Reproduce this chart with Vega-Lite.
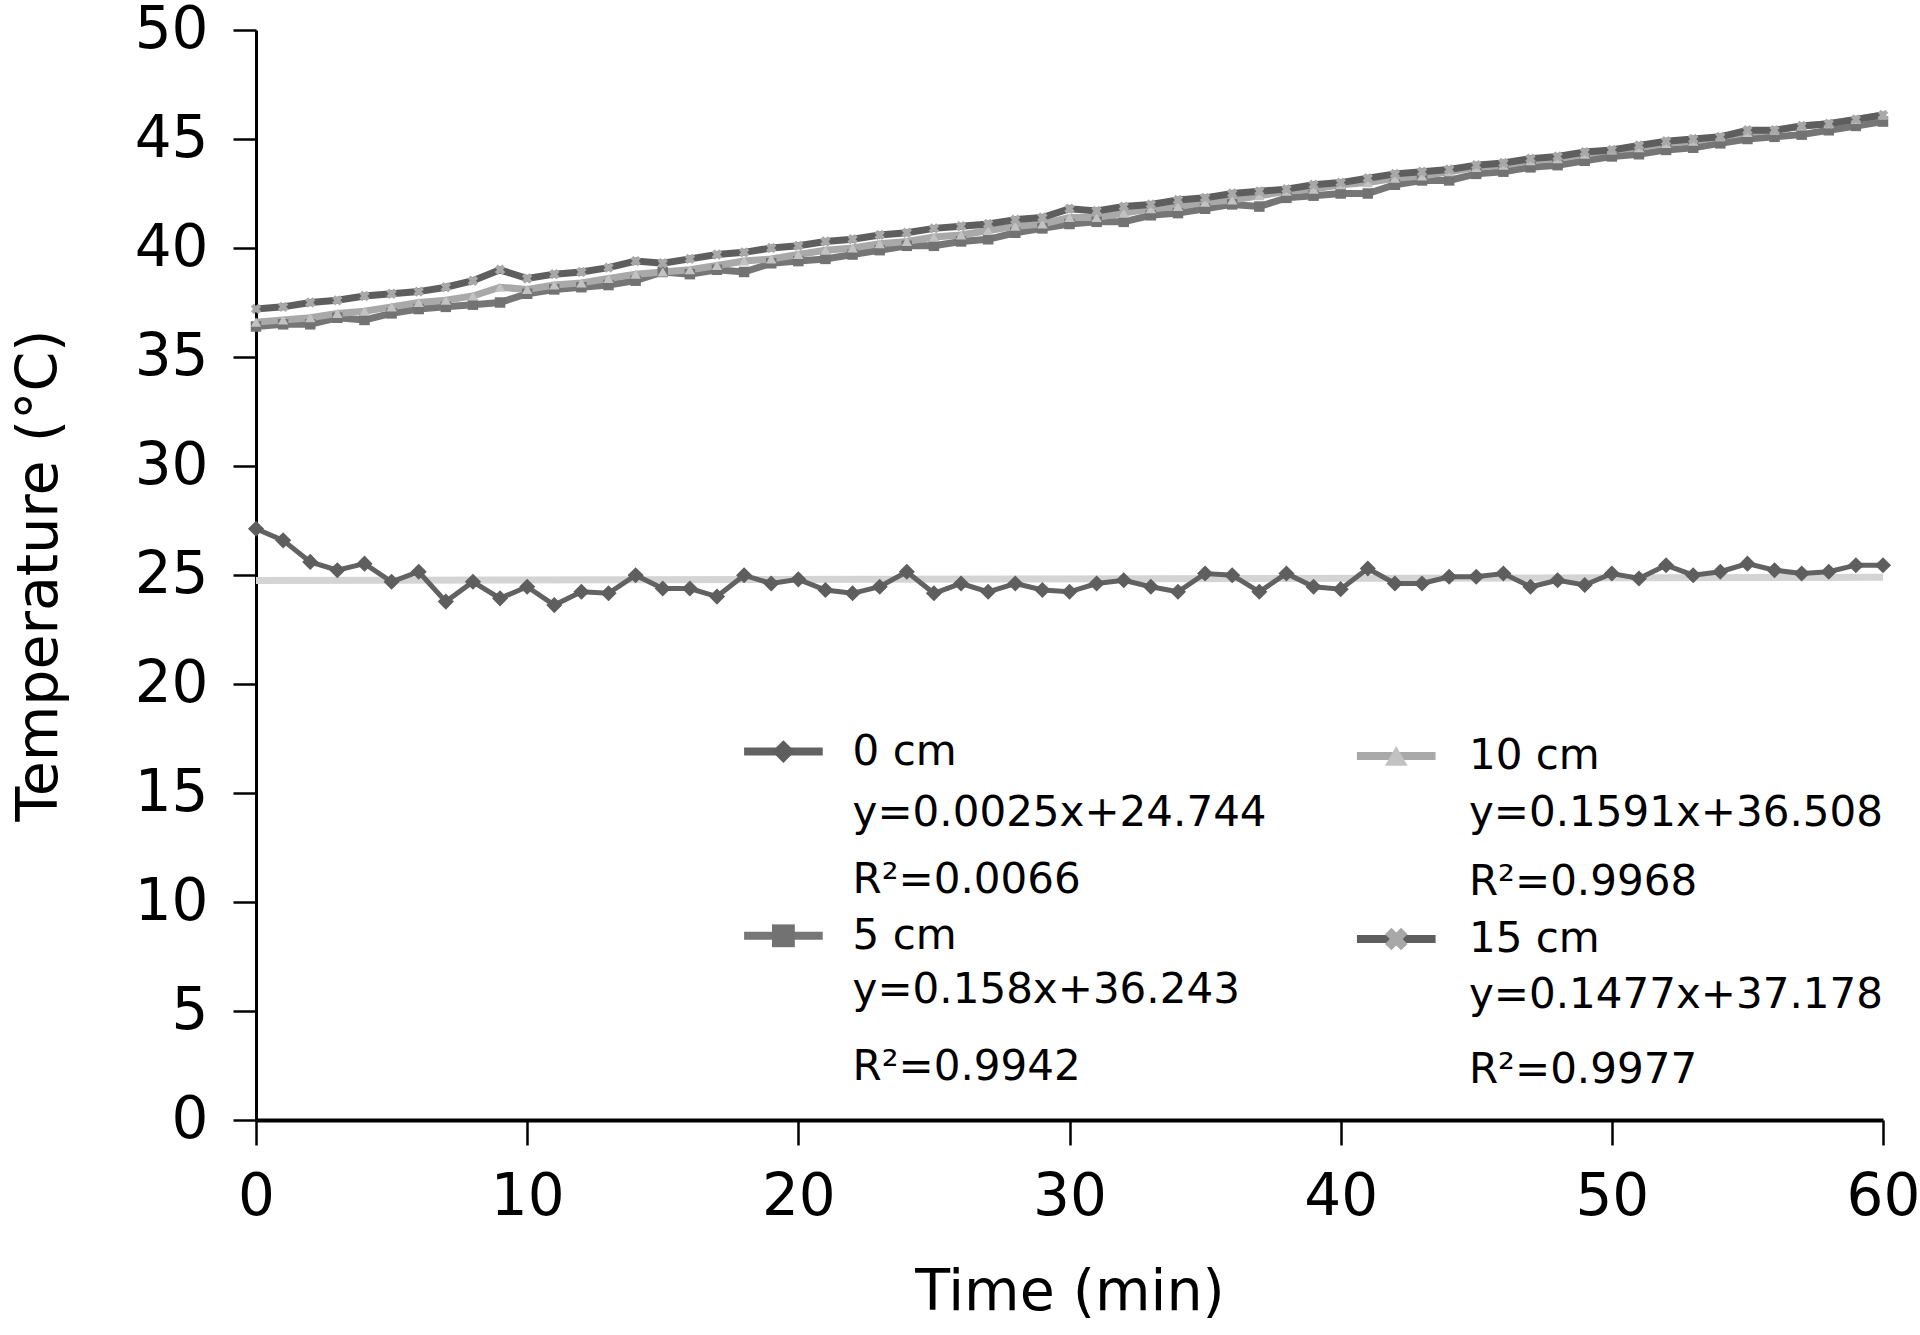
{
  "$schema": "https://vega.github.io/schema/vega-lite/v6.json",
  "width": 1627,
  "height": 1090,
  "autosize": "none",
  "padding": {"left": 256, "top": 30, "right": 37, "bottom": 215},
  "background": "white",
  "datasets": {
    "temps": [
      {"t":0,"c0":27.12,"c5":36.4,"c10":36.6,"c15":37.2},
      {"t":1,"c0":26.59,"c5":36.5,"c10":36.7,"c15":37.3},
      {"t":2,"c0":25.60,"c5":36.5,"c10":36.8,"c15":37.5},
      {"t":3,"c0":25.22,"c5":36.8,"c10":37.0,"c15":37.6},
      {"t":4,"c0":25.52,"c5":36.7,"c10":37.1,"c15":37.8},
      {"t":5,"c0":24.69,"c5":37.0,"c10":37.3,"c15":37.9},
      {"t":6,"c0":25.15,"c5":37.2,"c10":37.5,"c15":38.0},
      {"t":7,"c0":23.78,"c5":37.3,"c10":37.6,"c15":38.2},
      {"t":8,"c0":24.69,"c5":37.4,"c10":37.8,"c15":38.5},
      {"t":9,"c0":23.93,"c5":37.5,"c10":38.2,"c15":39.0},
      {"t":10,"c0":24.46,"c5":37.9,"c10":38.1,"c15":38.6},
      {"t":11,"c0":23.62,"c5":38.1,"c10":38.3,"c15":38.8},
      {"t":12,"c0":24.23,"c5":38.2,"c10":38.4,"c15":38.9},
      {"t":13,"c0":24.16,"c5":38.3,"c10":38.6,"c15":39.1},
      {"t":14,"c0":24.99,"c5":38.5,"c10":38.8,"c15":39.4},
      {"t":15,"c0":24.38,"c5":38.9,"c10":38.9,"c15":39.3},
      {"t":16,"c0":24.38,"c5":38.8,"c10":39.0,"c15":39.5},
      {"t":17,"c0":24.01,"c5":39.0,"c10":39.2,"c15":39.7},
      {"t":18,"c0":24.99,"c5":38.9,"c10":39.4,"c15":39.8},
      {"t":19,"c0":24.61,"c5":39.3,"c10":39.5,"c15":40.0},
      {"t":20,"c0":24.80,"c5":39.4,"c10":39.7,"c15":40.1},
      {"t":21,"c0":24.31,"c5":39.5,"c10":39.9,"c15":40.3},
      {"t":22,"c0":24.16,"c5":39.7,"c10":40.0,"c15":40.4},
      {"t":23,"c0":24.46,"c5":39.9,"c10":40.2,"c15":40.6},
      {"t":24,"c0":25.15,"c5":40.1,"c10":40.3,"c15":40.7},
      {"t":25,"c0":24.16,"c5":40.1,"c10":40.5,"c15":40.9},
      {"t":26,"c0":24.61,"c5":40.3,"c10":40.6,"c15":41.0},
      {"t":27,"c0":24.23,"c5":40.4,"c10":40.8,"c15":41.1},
      {"t":28,"c0":24.61,"c5":40.7,"c10":41.0,"c15":41.3},
      {"t":29,"c0":24.31,"c5":40.9,"c10":41.1,"c15":41.4},
      {"t":30,"c0":24.23,"c5":41.1,"c10":41.4,"c15":41.8},
      {"t":31,"c0":24.61,"c5":41.2,"c10":41.4,"c15":41.7},
      {"t":32,"c0":24.76,"c5":41.2,"c10":41.6,"c15":41.9},
      {"t":33,"c0":24.46,"c5":41.5,"c10":41.8,"c15":42.0},
      {"t":34,"c0":24.23,"c5":41.6,"c10":41.9,"c15":42.2},
      {"t":35,"c0":25.07,"c5":41.8,"c10":42.1,"c15":42.3},
      {"t":36,"c0":24.99,"c5":42.0,"c10":42.2,"c15":42.5},
      {"t":37,"c0":24.23,"c5":41.9,"c10":42.4,"c15":42.6},
      {"t":38,"c0":25.07,"c5":42.3,"c10":42.6,"c15":42.7},
      {"t":39,"c0":24.46,"c5":42.4,"c10":42.7,"c15":42.9},
      {"t":40,"c0":24.35,"c5":42.5,"c10":42.9,"c15":43.0},
      {"t":41,"c0":25.30,"c5":42.5,"c10":43.0,"c15":43.2},
      {"t":42,"c0":24.61,"c5":42.9,"c10":43.2,"c15":43.4},
      {"t":43,"c0":24.61,"c5":43.1,"c10":43.3,"c15":43.5},
      {"t":44,"c0":24.92,"c5":43.1,"c10":43.5,"c15":43.6},
      {"t":45,"c0":24.92,"c5":43.4,"c10":43.7,"c15":43.8},
      {"t":46,"c0":25.07,"c5":43.5,"c10":43.8,"c15":43.9},
      {"t":47,"c0":24.46,"c5":43.7,"c10":44.0,"c15":44.1},
      {"t":48,"c0":24.76,"c5":43.8,"c10":44.1,"c15":44.2},
      {"t":49,"c0":24.54,"c5":44.0,"c10":44.3,"c15":44.4},
      {"t":50,"c0":25.07,"c5":44.2,"c10":44.5,"c15":44.5},
      {"t":51,"c0":24.84,"c5":44.3,"c10":44.6,"c15":44.7},
      {"t":52,"c0":25.45,"c5":44.5,"c10":44.8,"c15":44.9},
      {"t":53,"c0":24.99,"c5":44.6,"c10":44.9,"c15":45.0},
      {"t":54,"c0":25.15,"c5":44.8,"c10":45.1,"c15":45.1},
      {"t":55,"c0":25.52,"c5":45.0,"c10":45.3,"c15":45.4},
      {"t":56,"c0":25.22,"c5":45.1,"c10":45.4,"c15":45.4},
      {"t":57,"c0":25.07,"c5":45.2,"c10":45.6,"c15":45.6},
      {"t":58,"c0":25.15,"c5":45.4,"c10":45.7,"c15":45.7},
      {"t":59,"c0":25.45,"c5":45.6,"c10":45.9,"c15":45.9},
      {"t":60,"c0":25.45,"c5":45.8,"c10":46.1,"c15":46.1}
    ],
    "fit": [
      {"t": 0, "T": 24.744},
      {"t": 60, "T": 24.894}
    ],
    "legsym": [
      {"s": "c0", "x1": 18.0, "x2": 20.9, "xc": 19.45, "y": 16.9},
      {"s": "c5", "x1": 18.0, "x2": 20.9, "xc": 19.45, "y": 8.45},
      {"s": "c10", "x1": 40.6, "x2": 43.5, "xc": 42.05, "y": 16.7},
      {"s": "c15", "x1": 40.6, "x2": 43.5, "xc": 42.05, "y": 8.3}
    ],
    "legtext": [
      {"x": 22.0, "y": 16.9, "txt": "0 cm"},
      {"x": 22.0, "y": 14.08, "txt": "y=0.0025x+24.744"},
      {"x": 22.0, "y": 11.0, "txt": "R²=0.0066"},
      {"x": 22.0, "y": 8.45, "txt": "5 cm"},
      {"x": 22.0, "y": 5.97, "txt": "y=0.158x+36.243"},
      {"x": 22.0, "y": 2.45, "txt": "R²=0.9942"},
      {"x": 44.73, "y": 16.68, "txt": "10 cm"},
      {"x": 44.73, "y": 14.08, "txt": "y=0.1591x+36.508"},
      {"x": 44.73, "y": 10.9, "txt": "R²=0.9968"},
      {"x": 44.73, "y": 8.3, "txt": "15 cm"},
      {"x": 44.73, "y": 5.74, "txt": "y=0.1477x+37.178"},
      {"x": 44.73, "y": 2.3, "txt": "R²=0.9977"}
    ]
  },
  "layer": [
    {
      "data": {"name": "fit"},
      "mark": {"type": "line", "color": "#d4d4d4", "strokeWidth": 7},
      "encoding": {
        "x": {"field": "t", "type": "quantitative", "scale": {"domain": [0, 60], "nice": false, "zero": false}, "axis": {"values": [0, 10, 20, 30, 40, 50, 60], "title": "Time (min)"}},
        "y": {"field": "T", "type": "quantitative", "scale": {"domain": [0, 50], "nice": false, "zero": false}, "axis": {"values": [0, 5, 10, 15, 20, 25, 30, 35, 40, 45, 50], "title": "Temperature (°C)"}}
      }
    },
    {
      "data": {"name": "temps"},
      "transform": [{"fold": ["c0", "c5", "c10", "c15"], "as": ["s", "v"]}],
      "mark": {"type": "line"},
      "encoding": {
        "x": {"field": "t", "type": "quantitative", "title": "Time (min)"},
        "y": {"field": "v", "type": "quantitative", "title": "Temperature (°C)"},
        "stroke": {"field": "s", "type": "nominal", "legend": null, "scale": {"domain": ["c0", "c5", "c10", "c15"], "range": ["#626262", "#767676", "#a9a9a9", "#5e5e5e"]}},
        "strokeWidth": {"condition": {"test": "datum.s === 'c0'", "value": 5}, "value": 7},
        "order": {"field": "t", "type": "quantitative"}
      }
    },
    {
      "data": {"name": "temps"},
      "transform": [{"fold": ["c0", "c5", "c10", "c15"], "as": ["s", "v"]}],
      "mark": {"type": "point", "filled": true, "opacity": 1},
      "encoding": {
        "x": {"field": "t", "type": "quantitative", "title": "Time (min)"},
        "y": {"field": "v", "type": "quantitative", "title": "Temperature (°C)"},
        "fill": {"field": "s", "type": "nominal", "legend": null, "scale": {"domain": ["c0", "c5", "c10", "c15"], "range": ["#5e5e5e", "#727272", "#c2c2c2", "#a8a8a8"]}},
        "shape": {"field": "s", "type": "nominal", "legend": null, "scale": {"domain": ["c0", "c5", "c10", "c15"], "range": ["diamond", "square", "triangle-up", "cross"]}},
        "size": {"condition": {"test": "datum.s === 'c0'", "value": 260}, "value": 110},
        "angle": {"condition": {"test": "datum.s === 'c15'", "value": 45}, "value": 0}
      }
    },
    {
      "data": {"name": "legsym"},
      "mark": {"type": "rule", "strokeWidth": 8},
      "encoding": {
        "x": {"field": "x1", "type": "quantitative", "title": "Time (min)"},
        "x2": {"field": "x2"},
        "y": {"field": "y", "type": "quantitative", "title": "Temperature (°C)"},
        "stroke": {"field": "s", "type": "nominal", "legend": null}
      }
    },
    {
      "data": {"name": "legsym"},
      "mark": {"type": "point", "filled": true, "opacity": 1},
      "encoding": {
        "x": {"field": "xc", "type": "quantitative", "title": "Time (min)"},
        "y": {"field": "y", "type": "quantitative", "title": "Temperature (°C)"},
        "fill": {"field": "s", "type": "nominal", "legend": null},
        "shape": {"field": "s", "type": "nominal", "legend": null},
        "size": {"value": 520},
        "angle": {"condition": {"test": "datum.s === 'c15'", "value": 45}, "value": 0}
      }
    },
    {
      "data": {"name": "legtext"},
      "mark": {"type": "text", "align": "left", "baseline": "middle", "font": "DejaVu Sans", "fontSize": 42, "color": "#000000"},
      "encoding": {
        "x": {"field": "x", "type": "quantitative", "title": "Time (min)"},
        "y": {"field": "y", "type": "quantitative", "title": "Temperature (°C)"},
        "text": {"field": "txt", "type": "nominal"}
      }
    }
  ],
  "config": {
    "view": {"stroke": null},
    "axis": {
      "grid": false,
      "domainColor": "#000000",
      "tickColor": "#000000",
      "labelColor": "#000000",
      "titleColor": "#000000",
      "labelFont": "DejaVu Sans",
      "titleFont": "DejaVu Sans",
      "labelFontSize": 58,
      "titleFontSize": 57,
      "titleFontWeight": "normal",
      "tickWidth": 2.5,
      "domainWidth": 3,
      "labelOverlap": false,
      "labelFlush": false
    },
    "axisX": {"tickSize": 25, "labelPadding": 23, "titlePadding": 38, "domainWidth": 4},
    "axisY": {"tickSize": 23, "labelPadding": 25, "titlePadding": 66}
  }
}
